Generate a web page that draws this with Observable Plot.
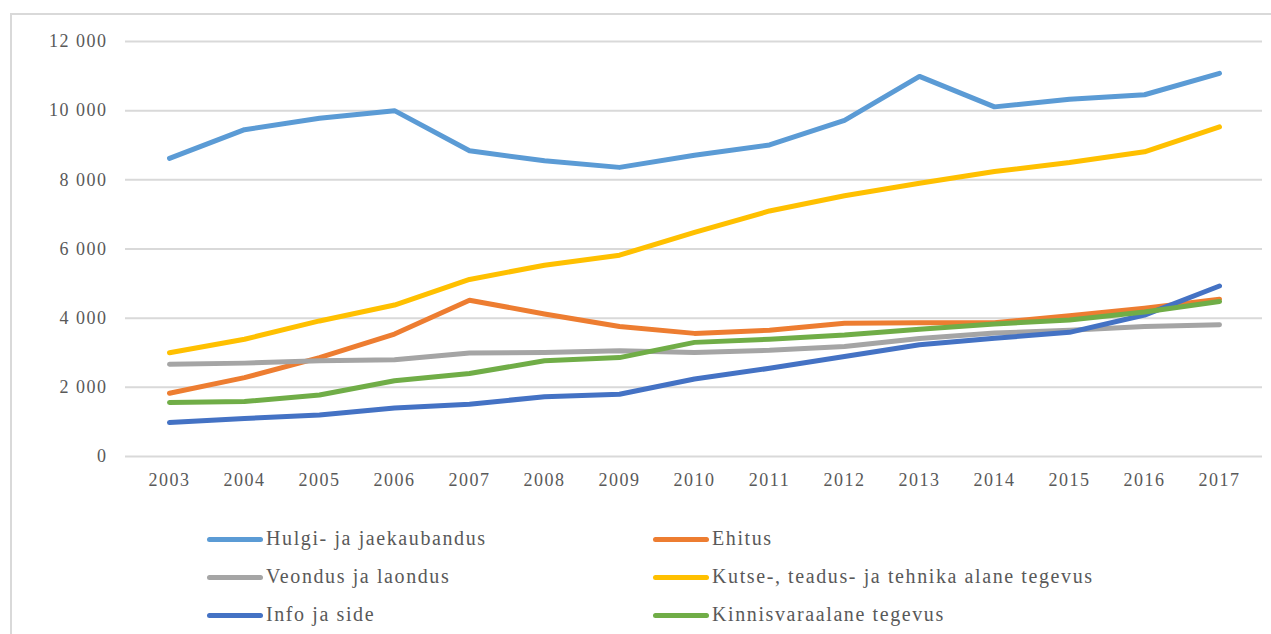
<!DOCTYPE html>
<html>
<head>
<meta charset="utf-8">
<script src="https://cdn.jsdelivr.net/npm/d3@7"></script>
<script src="https://cdn.jsdelivr.net/npm/@observablehq/plot@0.6"></script>
<style>
  html, body { margin: 0; padding: 0; background: #fff; }
  #wrap { position: relative; width: 1271px; height: 634px; overflow: hidden; }
  #frame { position: absolute; left: 10px; top: 13px; width: 1300px; height: 700px;
           border-left: 2px solid #d9d9d9; border-top: 2px solid #d9d9d9; }
  #chart { position: absolute; left: 0; top: 0; }
  .leg { position: absolute; font-family: "Liberation Serif", "Times New Roman", serif;
         font-size: 20px; letter-spacing: 1.6px; color: #595959; line-height: 20px; white-space: nowrap; }
  .sw { position: absolute; height: 5px; border-radius: 3px; }
</style>
</head>
<body>
<div id="wrap">
  <div id="frame"></div>
  <div id="chart"></div>
  <div id="legend"></div>
</div>
<script>
const years = [2003,2004,2005,2006,2007,2008,2009,2010,2011,2012,2013,2014,2015,2016,2017];
const seriesNames = [
  "Hulgi- ja jaekaubandus",
  "Ehitus",
  "Veondus ja laondus",
  "Kutse-, teadus- ja tehnika alane tegevus",
  "Info ja side",
  "Kinnisvaraalane tegevus"
];
const hulgi      = [8620, 9450, 9780, 10000, 8840, 8550, 8360, 8710, 9010, 9720, 10990, 10110, 10330, 10460, 11080];
const ehitus     = [1830, 2280, 2860, 3540, 4520, 4120, 3760, 3560, 3650, 3850, 3870, 3870, 4070, 4290, 4550];
const veondus    = [2670, 2700, 2770, 2800, 2990, 3010, 3060, 3010, 3070, 3180, 3410, 3570, 3650, 3760, 3810];
const kutse      = [3000, 3390, 3920, 4380, 5120, 5530, 5820, 6480, 7100, 7540, 7900, 8240, 8500, 8810, 9530];
const info       = [980, 1100, 1200, 1400, 1510, 1730, 1800, 2240, 2550, 2890, 3230, 3420, 3590, 4090, 4930];
const kinnisvara = [1560, 1590, 1780, 2190, 2400, 2770, 2860, 3300, 3390, 3510, 3680, 3830, 3950, 4180, 4480];
const yTicks = [0, 2000, 4000, 6000, 8000, 10000, 12000];
const colors = ["#5B9BD5", "#ED7D31", "#A5A5A5", "#FFC000", "#4472C4", "#70AD47"];

const allValues = [hulgi, ehitus, veondus, kutse, info, kinnisvara];
const data = [];
seriesNames.forEach((name, i) => {
  years.forEach((yr, j) => data.push({series: name, year: yr, value: allValues[i][j]}));
});

const fmt = d => d3.format(",")(d).replace(/,/g, " ");

const chart = Plot.plot({
  width: 1271,
  height: 500,
  marginLeft: 125,
  marginRight: 9,
  marginTop: 41,
  marginBottom: 44,
  style: {fontFamily: "'Liberation Serif', 'Times New Roman', serif", fontSize: "18px", letterSpacing: "1.5px", color: "#595959", background: "transparent"},
  x: {type: "point", domain: years, padding: 0.5, label: null, tickSize: 0, tickPadding: 17, tickFormat: d => String(d)},
  y: {domain: [0, 12000], ticks: yTicks, label: null, tickSize: 0, tickPadding: 18, tickFormat: fmt},
  color: {domain: seriesNames, range: colors},
  marks: [
    Plot.ruleY(yTicks, {stroke: "#d9d9d9", strokeWidth: 2}),
    Plot.axisX({tickSize: 0, tickPadding: 17, fill: "#595959", tickFormat: d => String(d), label: null}),
    Plot.axisY({tickSize: 0, tickPadding: 18, fill: "#595959", ticks: yTicks, tickFormat: fmt, label: null}),
    Plot.line(data, {x: "year", y: "value", z: "series", stroke: "series", strokeWidth: 5, strokeLinejoin: "round", strokeLinecap: "round"})
  ]
});
document.getElementById("chart").appendChild(chart);

// legend
const legend = document.getElementById("legend");
const cols = [{sw: 207, tx: 266}, {sw: 653, tx: 712}];
const rowsY = [539, 577, 615];
seriesNames.forEach((name, i) => {
  const c = cols[i % 2], r = rowsY[Math.floor(i / 2)];
  const sw = document.createElement("div");
  sw.className = "sw";
  sw.style.left = c.sw + "px";
  sw.style.width = "56px";
  sw.style.top = (r - 2.5) + "px";
  sw.style.background = colors[i];
  legend.appendChild(sw);
  const t = document.createElement("div");
  t.className = "leg";
  t.style.left = c.tx + "px";
  t.style.top = (r - 11) + "px";
  t.textContent = name;
  legend.appendChild(t);
});
</script>
</body>
</html>
